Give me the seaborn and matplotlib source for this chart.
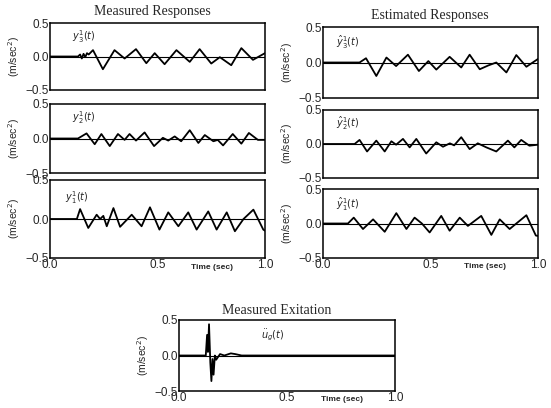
import matplotlib
matplotlib.use("Agg")
import matplotlib.pyplot as plt
import seaborn as sns
import pandas as pd

sns.set_style("white")
plt.rcParams['font.family'] = ['Liberation Sans', 'DejaVu Sans']
plt.rcParams['mathtext.fontset'] = 'dejavusans'
plt.rcParams['axes.unicode_minus'] = True

# ---- data (time in sec, acceleration in m/sec^2) ----
meas_y3_t = [0.0, 0.13, 0.14, 0.148, 0.156, 0.164, 0.172, 0.18, 0.2, 0.246, 0.30, 0.347, 0.40, 0.448,
             0.487, 0.533, 0.588, 0.65, 0.696, 0.75, 0.79, 0.843, 0.89, 0.944, 1.0]
meas_y3_v = [0.0, 0.0, 0.03, -0.03, 0.04, -0.01, 0.05, 0.03, 0.095, -0.19, 0.095, -0.03, 0.11, -0.10,
             0.05, -0.115, 0.095, -0.08, 0.11, -0.105, -0.01, -0.13, 0.125, -0.05, 0.05]

meas_y2_t = [0.0, 0.13, 0.17, 0.208, 0.239, 0.278, 0.316, 0.347, 0.37, 0.40, 0.44, 0.484, 0.525, 0.55,
             0.58, 0.61, 0.65, 0.69, 0.72, 0.76, 0.78, 0.805, 0.85, 0.89, 0.925, 0.967, 1.0]
meas_y2_v = [0.0, 0.0, 0.074, -0.083, 0.065, -0.11, 0.065, -0.02, 0.065, -0.03, 0.088, -0.11, 0.01, -0.03,
             0.03, -0.04, 0.12, -0.065, 0.05, -0.04, -0.02, -0.10, 0.065, -0.075, 0.08, -0.02, -0.02]

meas_y1_t = [0.0, 0.125, 0.14, 0.178, 0.217, 0.233, 0.248, 0.264, 0.295, 0.326, 0.38, 0.426, 0.465,
             0.509, 0.55, 0.597, 0.643, 0.682, 0.736, 0.775, 0.822, 0.86, 0.9, 0.946, 0.992, 1.0]
meas_y1_v = [0.0, 0.0, 0.127, -0.115, 0.055, 0.0, 0.04, -0.093, 0.14, -0.10, 0.055, -0.093, 0.15,
             -0.136, 0.085, -0.093, 0.085, -0.136, 0.097, -0.136, 0.085, -0.157, 0.0, 0.12, -0.136, -0.15]

est_y3_t = [0.0, 0.17, 0.2, 0.248, 0.295, 0.34, 0.395, 0.446, 0.49, 0.527, 0.589, 0.643, 0.682, 0.729,
            0.77, 0.806, 0.853, 0.899, 0.946, 1.0]
est_y3_v = [0.0, 0.0, 0.06, -0.19, 0.07, -0.05, 0.11, -0.12, 0.02, -0.10, 0.08, -0.07, 0.11, -0.095,
            -0.04, 0.0, -0.14, 0.105, -0.06, 0.05]

est_y2_t = [0.0, 0.147, 0.17, 0.205, 0.248, 0.287, 0.318, 0.34, 0.372, 0.403, 0.434, 0.48, 0.527, 0.558,
            0.59, 0.61, 0.643, 0.682, 0.72, 0.76, 0.806, 0.86, 0.89, 0.922, 0.96, 1.0]
est_y2_v = [0.0, 0.0, 0.06, -0.11, 0.05, -0.11, 0.04, -0.01, 0.075, -0.05, 0.075, -0.14, 0.025, -0.04,
            0.01, -0.02, 0.10, -0.075, 0.01, -0.05, -0.11, 0.05, -0.05, 0.06, -0.025, -0.01]

est_y1_t = [0.0, 0.116, 0.143, 0.186, 0.233, 0.287, 0.341, 0.388, 0.426, 0.46, 0.496, 0.55, 0.589,
            0.636, 0.674, 0.736, 0.783, 0.822, 0.868, 0.946, 0.99, 1.0]
est_y1_v = [0.0, 0.0, 0.085, -0.08, 0.06, -0.12, 0.15, -0.08, 0.085, 0.0, -0.13, 0.11, -0.105,
            0.085, -0.035, 0.11, -0.165, 0.06, -0.08, 0.12, -0.175, -0.18]

exc_t = [0.0, 0.124, 0.13, 0.134, 0.139, 0.145, 0.15, 0.155, 0.16, 0.166, 0.172, 0.19, 0.21, 0.24,
         0.26, 0.29, 1.0]
exc_v = [0.0, 0.0, 0.29, 0.05, 0.44, -0.1, -0.36, -0.05, -0.27, 0.0, -0.06, 0.02, 0.0, 0.03,
         0.02, 0.0, 0.0]

yticks = [-0.5, 0.0, 0.5]
ytick_labels = ["\u22120.5", "0.0", "0.5"]
xticks = [0.0, 0.5, 1.0]
xtick_labels = ["0.0", "0.5", "1.0"]

W, H = 551, 408
fig = plt.figure(figsize=(W / 100, H / 100), dpi=100)


def rect(x0, top, x1, bottom):
    return [x0 / W, 1 - bottom / H, (x1 - x0) / W, (bottom - top) / H]


panels = [
    (rect(50, 23, 265, 90), meas_y3_t, meas_y3_v, r"$y^{1}_{3}(t)$", (0.10, 0.80), False),
    (rect(50, 104, 265, 173), meas_y2_t, meas_y2_v, r"$y^{1}_{2}(t)$", (0.10, 0.80), False),
    (rect(50, 180, 265, 258), meas_y1_t, meas_y1_v, r"$y^{1}_{1}(t)$", (0.07, 0.78), True),
    (rect(323, 27, 538, 98), est_y3_t, est_y3_v, r"$\hat{y}^{1}_{3}(t)$", (0.06, 0.78), False),
    (rect(323, 110, 538, 178), est_y2_t, est_y2_v, r"$\hat{y}^{1}_{2}(t)$", (0.06, 0.80), False),
    (rect(323, 189, 538, 258), est_y1_t, est_y1_v, r"$\hat{y}^{1}_{1}(t)$", (0.06, 0.78), True),
    (rect(179, 320, 395, 391), exc_t, exc_v, r"$\ddot{u}_{g}(t)$", (0.38, 0.78), True),
]

for pos, t, v, lab, lpos, show_x in panels:
    ax = fig.add_axes(pos)
    df = pd.DataFrame({"t": t, "v": v})
    ax.axhline(0.0, color="black", lw=0.8, zorder=1)
    sns.lineplot(data=df, x="t", y="v", ax=ax, color="black", lw=1.3, sort=False,
                 estimator=None, solid_joinstyle="round")
    ax.set_xlim(0.0, 1.0)
    ax.set_ylim(-0.5, 0.5)
    ax.set_xlabel("")
    ax.set_ylabel("(m/sec$^2$)", fontsize=7.5, labelpad=2)
    ax.set_yticks(yticks)
    ax.set_yticklabels(ytick_labels, fontsize=8.5)
    ax.set_xticks(xticks)
    if show_x:
        ax.set_xticklabels(xtick_labels, fontsize=8.5)
        ax.text(0.755, -0.075, "Time (sec)", transform=ax.transAxes, fontsize=6,
                ha="center", va="top", fontweight="bold")
    else:
        ax.set_xticklabels([])
    ax.tick_params(axis="both", length=2, direction="in", pad=1)
    for s in ax.spines.values():
        s.set_color("black")
        s.set_linewidth(1.1)
    ax.text(lpos[0], lpos[1], lab, transform=ax.transAxes, fontsize=7, ha="left", va="center")

fig.text(152 / W, 1 - 12 / H, "Measured Responses", family="Liberation Serif",
         fontsize=10, ha="center", va="center")
fig.text(430 / W, 1 - 15 / H, "Estimated Responses", family="Liberation Serif",
         fontsize=10, ha="center", va="center")
fig.text(277 / W, 1 - 310 / H, "Measured Exitation", family="Liberation Serif",
         fontsize=10, ha="center", va="center")

fig.savefig("out.png", dpi=100)
